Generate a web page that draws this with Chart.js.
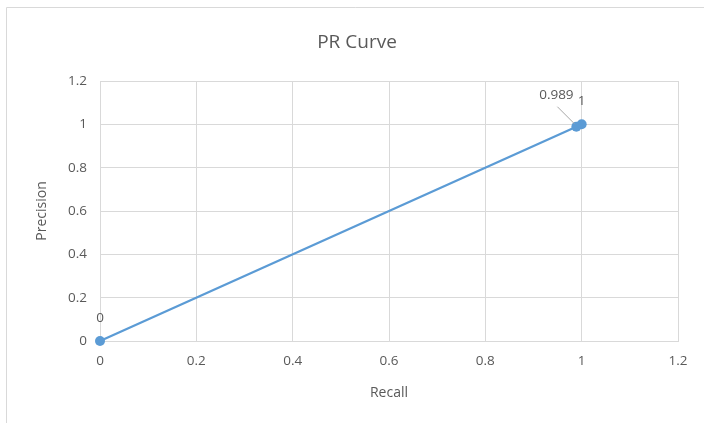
<!DOCTYPE html>
<html>
<head>
<meta charset="utf-8">
<script src="https://cdn.jsdelivr.net/npm/chart.js@4/dist/chart.umd.min.js"></script>
<style>
  html, body { margin: 0; padding: 0; background: #fff; }
  #wrap { width: 704px; height: 423px; }
</style>
</head>
<body>
<div id="wrap"><canvas id="prChart" width="704" height="423"></canvas></div>
<script>
// PR curve data
const recall = [0, 0.989, 1];
const precision = [0, 0.989, 1];
const pointLabels = ['0', '0.989', '1'];
const tickValues = [0, 0.2, 0.4, 0.6, 0.8, 1, 1.2];

const lineColor = '#5B9BD5';
const gridColor = '#D9D9D9';
const textColor = '#595959';
const fontFamily = "'Open Sans', 'Liberation Sans', sans-serif";

// frame, title and data labels
const decorPlugin = {
  id: 'decor',
  beforeDraw(chart) {
    const ctx = chart.ctx;
    ctx.save();
    ctx.strokeStyle = gridColor;
    ctx.lineWidth = 1;
    ctx.beginPath();
    ctx.moveTo(6.5, 423);
    ctx.lineTo(6.5, 7.5);
    ctx.lineTo(704, 7.5);
    ctx.stroke();
    ctx.restore();
  },
  afterDatasetsDraw(chart) {
    const ctx = chart.ctx;
    const xs = chart.scales.x, ys = chart.scales.y;
    ctx.save();
    ctx.fillStyle = textColor;
    ctx.font = '19px ' + fontFamily;
    ctx.textAlign = 'center';
    ctx.textBaseline = 'middle';
    ctx.fillText('PR Curve', 357, 43);

    ctx.font = '13.5px ' + fontFamily;
    // label for first point, above it
    const p0x = xs.getPixelForValue(recall[0]), p0y = ys.getPixelForValue(precision[0]);
    ctx.fillText(pointLabels[0], p0x, p0y - 23);
    // label for middle point, with leader line
    const p1x = xs.getPixelForValue(recall[1]), p1y = ys.getPixelForValue(precision[1]);
    ctx.strokeStyle = '#A6A6A6';
    ctx.lineWidth = 1;
    ctx.beginPath();
    ctx.moveTo(p1x - 19, p1y - 20);
    ctx.lineTo(p1x - 2, p1y - 3);
    ctx.stroke();
    ctx.fillText(pointLabels[1], p1x - 20, p1y - 32);
    // label for last point
    const p2x = xs.getPixelForValue(recall[2]), p2y = ys.getPixelForValue(precision[2]);
    ctx.fillText(pointLabels[2], p2x, p2y - 23);
    ctx.restore();
  }
};

new Chart(document.getElementById('prChart'), {
  type: 'scatter',
  data: {
    datasets: [{
      data: recall.map((r, i) => ({ x: r, y: precision[i] })),
      showLine: true,
      clip: false,
      borderColor: lineColor,
      backgroundColor: lineColor,
      borderWidth: 2.25,
      pointRadius: 5,
      pointBorderWidth: 0,
      pointHoverRadius: 5
    }]
  },
  options: {
    responsive: false,
    animation: false,
    layout: { padding: { left: 30, top: 81, right: 26, bottom: 18 } },
    plugins: { legend: { display: false }, tooltip: { enabled: false }, title: { display: false } },
    scales: {
      x: {
        type: 'linear',
        min: 0, max: 1.2,
        afterBuildTicks: s => { s.ticks = tickValues.map(v => ({ value: v })); },
        afterFit: s => { s.height = 64; },
        grid: { color: gridColor, drawTicks: false, lineWidth: 1 },
        border: { color: gridColor },
        ticks: { color: textColor, font: { family: fontFamily, size: 13.5 }, padding: 12, callback: v => String(Math.round(v * 10) / 10) },
        title: { display: true, text: 'Recall', color: textColor, font: { family: fontFamily, size: 14 }, padding: { top: 8 } }
      },
      y: {
        type: 'linear',
        min: 0, max: 1.2,
        afterBuildTicks: s => { s.ticks = tickValues.map(v => ({ value: v })); },
        afterFit: s => { s.width = 70; },
        grid: { color: gridColor, drawTicks: false, lineWidth: 1 },
        border: { color: gridColor },
        ticks: { color: textColor, font: { family: fontFamily, size: 13.5 }, padding: 13, callback: v => String(Math.round(v * 10) / 10) },
        title: { display: true, text: 'Precision', color: textColor, font: { family: fontFamily, size: 14 }, padding: { bottom: 4 } }
      }
    }
  },
  plugins: [decorPlugin]
});
</script>
</body>
</html>
